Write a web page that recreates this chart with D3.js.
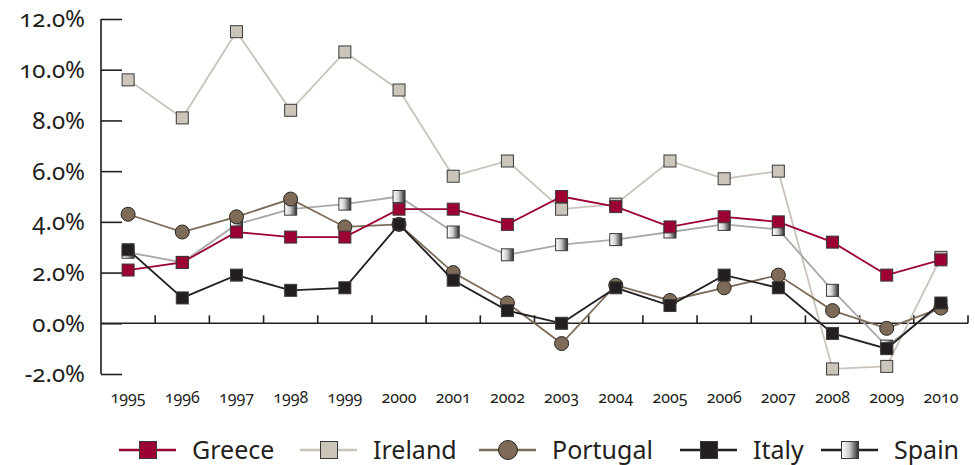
<!DOCTYPE html>
<html lang="en">
<head>
    <meta charset="utf-8">
    <title>Inflation 1995-2010</title>
    <script src="https://d3js.org/d3.v7.min.js"></script>
    <style>
        body { margin: 0; background: #fff; }
        svg text {
            font-family: "Noto Sans", Lato, sans-serif;
            fill: #231f20;
            font-variant-numeric: oldstyle-nums;
        }
    </style>
</head>
<body>
    <svg id="chart" width="975" height="465"></svg>
    <script>
        // Data (annual %)
        const years = ["1995", "1996", "1997", "1998", "1999", "2000", "2001", "2002",
                       "2003", "2004", "2005", "2006", "2007", "2008", "2009", "2010"];
        const greece   = [2.1, 2.4, 3.6, 3.4, 3.4, 4.5, 4.5, 3.9, 5.0, 4.6, 3.8, 4.2, 4.0, 3.2, 1.9, 2.5];
        const ireland  = [9.6, 8.1, 11.5, 8.4, 10.7, 9.2, 5.8, 6.4, 4.5, 4.7, 6.4, 5.7, 6.0, -1.8, -1.7, 2.6];
        const portugal = [4.3, 3.6, 4.2, 4.9, 3.8, 3.9, 2.0, 0.8, -0.8, 1.5, 0.9, 1.4, 1.9, 0.5, -0.2, 0.6];
        const italy    = [2.9, 1.0, 1.9, 1.3, 1.4, 3.9, 1.7, 0.5, 0.0, 1.4, 0.7, 1.9, 1.4, -0.4, -1.0, 0.8];
        const spain    = [2.8, 2.4, 3.9, 4.5, 4.7, 5.0, 3.6, 2.7, 3.1, 3.3, 3.6, 3.9, 3.7, 1.3, -0.9, 0.7];
        const yTicks = [-2, 0, 2, 4, 6, 8, 10, 12];

        const series = [
            { name: "Ireland",  values: ireland,  line: "#c9c3b9", fill: "#ccc5ba", shape: "square" },
            { name: "Spain",    values: spain,    line: "#a9a9a9", fill: "url(#spainGrad)", shape: "square", legendLine: "#231f20" },
            { name: "Portugal", values: portugal, line: "#7d6b57", fill: "#7d6b57", shape: "circle" },
            { name: "Greece",   values: greece,   line: "#9c0032", fill: "#9c0032", shape: "square" },
            { name: "Italy",    values: italy,    line: "#231f20", fill: "#231f20", shape: "square" }
        ];
        const legendOrder = ["Greece", "Ireland", "Portugal", "Italy", "Spain"];

        const svg = d3.select("#chart");
        const plotLeft = 101, plotRight = 968, plotTop = 19, plotBottom = 374;

        const defs = svg.append("defs");
        const grad = defs.append("linearGradient").attr("id", "spainGrad")
            .attr("x1", "0%").attr("x2", "100%").attr("y1", "0%").attr("y2", "0%");
        grad.append("stop").attr("offset", "0%").attr("stop-color", "#ffffff");
        grad.append("stop").attr("offset", "45%").attr("stop-color", "#d0d0d0");
        grad.append("stop").attr("offset", "100%").attr("stop-color", "#2a2a2a");

        const x = d3.scaleBand().domain(years).range([plotLeft, plotRight]);
        const y = d3.scaleLinear().domain([-2, 12]).range([plotBottom, plotTop]);

        // y axis: vertical line with ticks pointing into the plot
        const yAxis = svg.append("g").attr("transform", `translate(${plotLeft},0)`)
            .call(d3.axisRight(y).tickValues(yTicks).tickSize(21).tickFormat(""));
        yAxis.select(".domain").attr("d", `M0,${plotTop}V${plotBottom}`);
        yAxis.selectAll("line, path").attr("stroke", "#231f20").attr("stroke-width", 1.6);

        svg.append("g").selectAll("text").data(yTicks).join("text")
            .attr("x", 85).attr("y", d => y(d)).attr("dy", "0.35em")
            .attr("text-anchor", "end").attr("font-size", 24)
            .text(d => d.toFixed(1) + "%");

        // zero line with category separators
        const zeroY = y(0);
        const bounds = years.slice(1).map(d => x(d)).concat([plotRight]);
        const xAxis = svg.append("g");
        xAxis.append("line").attr("x1", plotLeft).attr("x2", plotRight)
            .attr("y1", zeroY).attr("y2", zeroY)
            .attr("stroke", "#231f20").attr("stroke-width", 1.6);
        xAxis.selectAll(".sep").data(bounds).join("line").attr("class", "sep")
            .attr("x1", d => d).attr("x2", d => d)
            .attr("y1", zeroY).attr("y2", zeroY - 8)
            .attr("stroke", "#231f20").attr("stroke-width", 1.6);

        svg.append("g").selectAll("text").data(years).join("text")
            .attr("x", d => x(d) + x.bandwidth() / 2).attr("y", 403)
            .attr("text-anchor", "middle").attr("font-size", 16)
            .text(d => d);

        const line = d3.line()
            .x((d, i) => x(years[i]) + x.bandwidth() / 2)
            .y(d => y(d));

        function marker(g, s, cx, cy, size) {
            if (s.shape === "circle") {
                g.append("circle").attr("cx", cx).attr("cy", cy).attr("r", size / 2 + 1)
                    .attr("fill", s.fill).attr("stroke", "#2b2622").attr("stroke-width", 1);
            } else {
                g.append("rect").attr("x", cx - size / 2).attr("y", cy - size / 2)
                    .attr("width", size).attr("height", size)
                    .attr("fill", s.fill).attr("stroke", "#3a3a3a").attr("stroke-width", 1);
            }
        }

        series.forEach(s => {
            const g = svg.append("g");
            g.append("path").datum(s.values).attr("d", line)
                .attr("fill", "none").attr("stroke", s.line).attr("stroke-width", 1.8);
            s.values.forEach((v, i) => marker(g, s, x(years[i]) + x.bandwidth() / 2, y(v), 12));
        });

        // legend
        const legendX = [119, 300, 479, 680, 821];
        const legend = svg.append("g");
        legendOrder.forEach((name, i) => {
            const s = series.find(d => d.name === name);
            const lx = legendX[i], ly = 450;
            legend.append("line").attr("x1", lx).attr("x2", lx + 57)
                .attr("y1", ly).attr("y2", ly)
                .attr("stroke", s.legendLine || s.line).attr("stroke-width", 2.5);
            marker(legend, s, lx + 29, ly, 17);
            legend.append("text").attr("x", lx + 73).attr("y", ly).attr("dy", "0.35em")
                .attr("font-size", 25).text(name);
        });
    </script>
</body>
</html>
